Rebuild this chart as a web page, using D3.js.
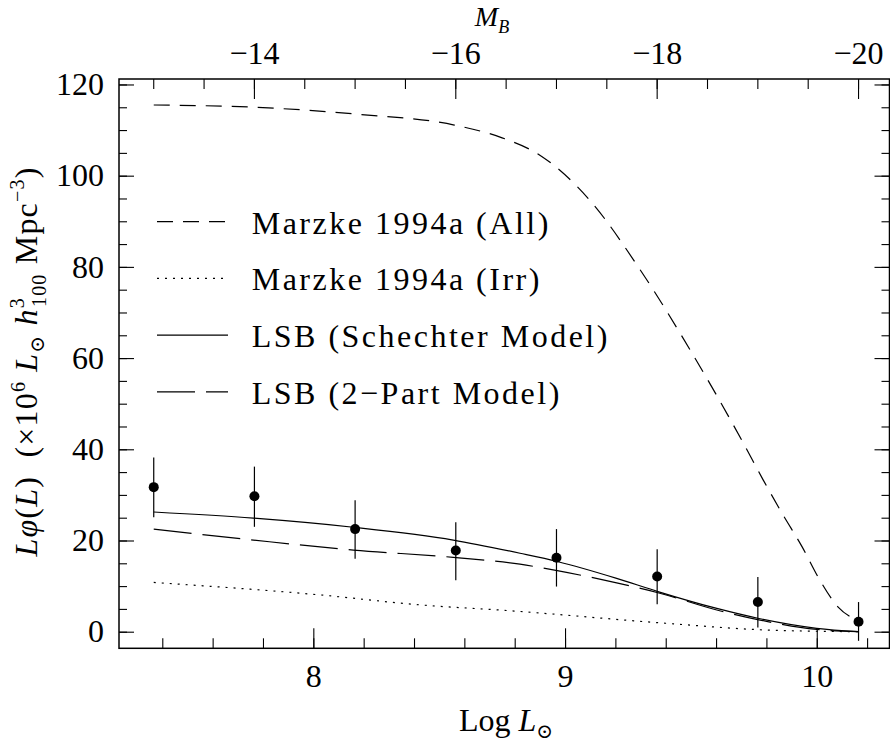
<!DOCTYPE html>
<html>
<head>
<meta charset="utf-8">
<script src="https://cdn.jsdelivr.net/npm/d3@7"></script>
<style>
body { margin: 0; background: #fff; }
text { font-family: "Liberation Serif", "DejaVu Serif", serif; fill: #000; white-space: pre; }
</style>
</head>
<body>
<svg id="chart" width="890" height="743"></svg>
<script>
// LSB luminosity function points (log L, L phi(L)) with asymmetric errors
const pointLogL = [7.366, 7.766, 8.166, 8.566, 8.966, 9.366, 9.766, 10.166];
const pointLphi = [31.7, 29.7, 22.5, 17.8, 16.2, 12.1, 6.5, 2.2];
const errLow  = [6.6, 6.7, 6.5, 6.5, 6.3, 6.1, 5.6, 4.2];
const errHigh = [6.5, 6.5, 6.3, 6.2, 6.3, 6.0, 5.5, 4.3];

// Marzke 1994a (All)
const allLogL = [7.366, 7.77, 8.17, 8.56, 8.75, 8.9, 9.1, 9.298, 9.5, 9.702, 9.787, 9.866, 9.942, 10.005, 10.085, 10.15];
const allLphi = [115.5, 115.0, 113.5, 111.1, 108.3, 104.5, 94.5, 79.4, 61.5, 42.0, 33.3, 25.6, 18.6, 12.0, 5.4, 2.7];

// Marzke 1994a (Irr)
const irrLogL = [7.366, 8.03, 8.42, 8.78, 9.40, 9.80, 10.165];
const irrLphi = [10.8, 8.05, 5.9, 4.6, 1.85, 0.37, 0.0];

// LSB (Schechter Model)
const schLogL = [7.366, 7.762, 8.159, 8.556, 8.821, 8.969, 9.205, 9.369, 9.603, 9.770, 10.0, 10.165];
const schLphi = [26.25, 24.9, 22.9, 20.1, 17.2, 15.4, 11.7, 8.8, 5.1, 2.9, 0.75, 0.0];

// LSB (2-Part Model)
const twoLogL = [7.366, 7.762, 8.159, 8.556, 8.821, 8.969, 9.205, 9.369, 9.603, 9.770, 10.0, 10.165];
const twoLphi = [22.5, 20.1, 17.9, 16.3, 14.8, 13.4, 10.7, 8.55, 4.75, 2.6, 0.5, 0.0];

const legendLabels = ["Marzke 1994a (All)", "Marzke 1994a (Irr)", "LSB (Schechter Model)", "LSB (2\u2212Part Model)"];

const logTicks = [8, 9, 10];
const yTicks = [0, 20, 40, 60, 80, 100, 120];
const magTicks = [-14, -16, -18, -20];
const magZero = 5.41; // M_B = magZero - 2.5 log L

const svg = d3.select("#chart");
const frame = {left: 119, right: 889.5, top: 79, bottom: 648.3};

const x = d3.scaleLinear().domain([7.228, 10.289]).range([frame.left, frame.right]);
const y = d3.scaleLinear().domain([-3.64, 121.2]).range([frame.bottom, frame.top]);
const xm = d3.scaleLinear()
    .domain([magZero - 2.5 * x.domain()[0], magZero - 2.5 * x.domain()[1]])
    .range([frame.left, frame.right]);

const fontSize = 32;

// axes: major + minor ticks, ticks drawn inward
function drawAxis(axisFn, scale, majors, minors, pos, majorLen, minorLen, pad, labels) {
    const gMinor = svg.append("g").attr("transform", pos)
        .call(axisFn(scale).tickValues(minors).tickSize(-minorLen).tickFormat(""));
    const gMajor = svg.append("g").attr("transform", pos)
        .call(axisFn(scale).tickValues(majors).tickSize(-majorLen).tickPadding(pad)
            .tickFormat(labels ? d3.format("d") : ""));
    [gMinor, gMajor].forEach(g => {
        g.select(".domain").remove();
        g.selectAll("line").attr("stroke", "#000").attr("stroke-width", 1.1);
        g.selectAll("text").style("font-size", fontSize + "px")
            .style("font-family", '"Liberation Serif", serif').attr("fill", "#000");
    });
    return gMajor;
}

const logMinor = d3.range(7.4, 10.3, 0.2).map(v => +v.toFixed(1));
const yMinor = d3.range(0, 125, 5);
const magMinor = d3.range(-13, -20.6, -0.5);

drawAxis(d3.axisBottom, x, logTicks, logMinor, `translate(0,${frame.bottom})`, 20, 10, 16, true);
drawAxis(d3.axisTop, xm, magTicks, magMinor, `translate(0,${frame.top})`, 20, 10, 15, true);
drawAxis(d3.axisLeft, y, yTicks, yMinor, `translate(${frame.left},0)`, 15, 8, 15, true);
drawAxis(d3.axisRight, y, yTicks, yMinor, `translate(${frame.right},0)`, 15, 8, 15, false);

// frame
svg.append("rect")
    .attr("x", frame.left).attr("y", frame.top)
    .attr("width", frame.right - frame.left).attr("height", frame.bottom - frame.top)
    .attr("fill", "none").attr("stroke", "#000").attr("stroke-width", 1.5);

// curves
const line = d3.line().x(d => x(d[0])).y(d => y(d[1])).curve(d3.curveMonotoneX);
const curves = [
    {xs: allLogL, ys: allLphi, dash: "16,10"},
    {xs: irrLogL, ys: irrLphi, dash: "2,6"},
    {xs: schLogL, ys: schLphi, dash: null},
    {xs: twoLogL, ys: twoLphi, dash: "38,11"}
];
curves.forEach(c => {
    svg.append("path")
        .datum(d3.zip(c.xs, c.ys))
        .attr("d", line)
        .attr("fill", "none")
        .attr("stroke", "#000")
        .attr("stroke-width", 1.2)
        .attr("stroke-dasharray", c.dash);
});

// error bars and points
const pts = pointLogL.map((v, i) => ({x: v, y: pointLphi[i], lo: errLow[i], hi: errHigh[i]}));
svg.append("g").selectAll("line").data(pts).join("line")
    .attr("x1", d => x(d.x)).attr("x2", d => x(d.x))
    .attr("y1", d => y(d.y - d.lo)).attr("y2", d => y(d.y + d.hi))
    .attr("stroke", "#000").attr("stroke-width", 1.2);
svg.append("g").selectAll("circle").data(pts).join("circle")
    .attr("cx", d => x(d.x)).attr("cy", d => y(d.y)).attr("r", 5)
    .attr("fill", "#000");

// legend
const legendTop = 221.7, legendStep = 56.7;
legendLabels.forEach((lab, i) => {
    const ly = legendTop + i * legendStep;
    svg.append("line")
        .attr("x1", 157).attr("x2", 228).attr("y1", ly).attr("y2", ly)
        .attr("stroke", "#000").attr("stroke-width", 1.2)
        .attr("stroke-dasharray", curves[i].dash);
    svg.append("text")
        .attr("x", 251.7).attr("y", ly + 12)
        .style("font-size", fontSize + "px")
        .style("letter-spacing", "2.5px")
        .text(lab);
});

// axis titles
function richText(sel, parts) {
    parts.forEach(p => {
        const t = sel.append("tspan").text(p.t);
        if (p.i) t.style("font-style", "italic");
        if (p.s) t.style("font-size", p.s + "px");
        if (p.dy) t.attr("dy", p.dy);
        if (p.dx) t.attr("dx", p.dx);
    });
}

const bottomTitle = svg.append("text")
    .attr("x", 506).attr("y", 731).attr("text-anchor", "middle")
    .style("font-size", fontSize + "px");
richText(bottomTitle, [{t: "Log "}, {t: "L", i: true}, {t: "\u2299", s: 20, dy: 7}]);

const topTitle = svg.append("text")
    .attr("x", 492).attr("y", 26).attr("text-anchor", "middle")
    .style("font-size", "28px");
richText(topTitle, [{t: "M", i: true}, {t: "B", i: true, s: 18, dy: 7}]);

const yTitle = svg.append("text")
    .attr("transform", "translate(37,361.5) rotate(-90)")
    .attr("text-anchor", "middle")
    .style("font-size", fontSize + "px")
    .style("letter-spacing", "1.2px");
richText(yTitle, [
    {t: "L", i: true}, {t: "\u03c6", i: true}, {t: "("}, {t: "L", i: true}, {t: ")  (\u00d710"},
    {t: "6", s: 20, dy: -12}, {t: " ", dy: 12},
    {t: "L", i: true}, {t: "\u2299", s: 20, dy: 7}, {t: " ", dy: -7},
    {t: "h", i: true}, {t: "3", s: 20, dy: -13}, {t: "100", s: 20, dx: -10, dy: 22},
    {t: " Mpc", dy: -9}, {t: "\u22123", s: 20, dy: -13}, {t: ")", dy: 13}
]);
</script>
</body>
</html>
